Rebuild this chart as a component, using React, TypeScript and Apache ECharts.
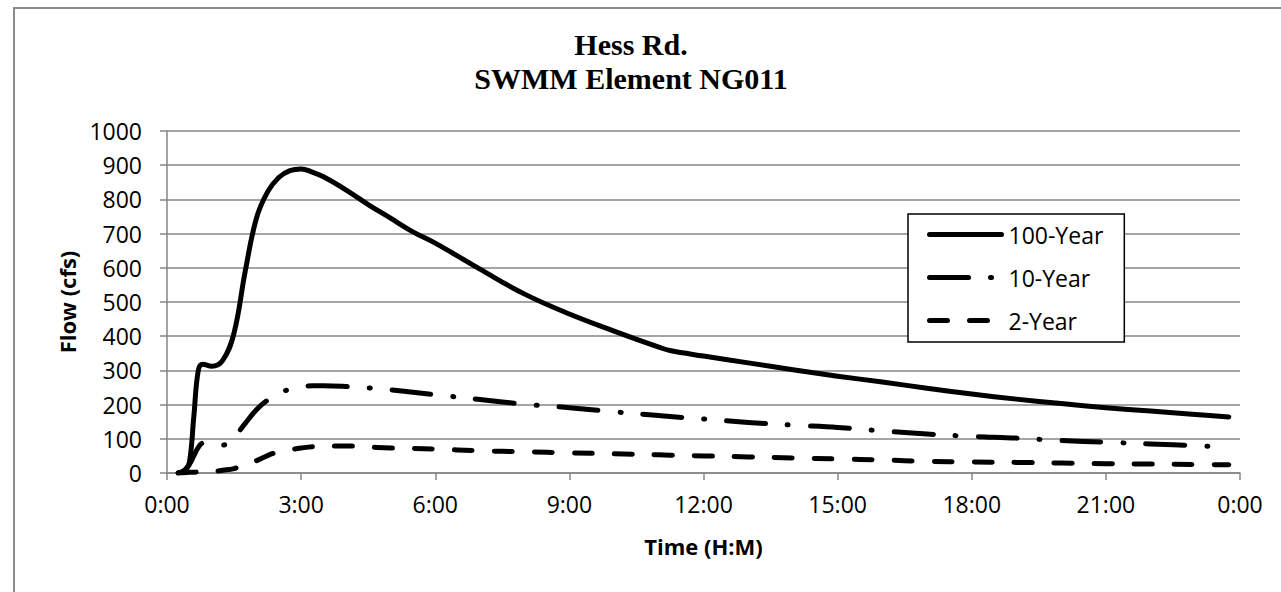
import React, { useEffect, useRef } from "react";
import * as echarts from "echarts";

const hours = [0.25, 0.4, 0.5, 0.6, 0.7, 0.8, 1.0, 1.25, 1.5, 1.75, 2.0, 2.25, 2.5, 2.75, 3.0, 3.25, 3.5, 4, 4.5, 5, 5.5, 6, 7, 8, 9, 10, 11, 11.25, 12, 13, 14, 15, 16, 17, 18, 19, 20, 21, 22, 23, 23.75];
const flow100 = [0, 8, 30, 165, 300, 318, 312, 330, 410, 590, 745, 822, 864, 884, 889, 880, 866, 828, 785, 745, 705, 672, 596, 523, 465, 415, 368, 358, 342, 322, 302, 283, 266, 248, 231, 216, 203, 191, 181, 171, 164];
const flow10 = [0, 9, 25, 50, 75, 87, 85, 82, 105, 145, 185, 213, 233, 245, 252, 255, 255, 253, 249, 243, 236, 229, 215, 201, 191, 179, 168, 165, 158, 148, 140, 133, 123, 114, 107, 102, 95, 90, 85, 80, 75];
const flow2 = [0, 1, 2, 2, 3, 3, 4, 8, 13, 24, 36, 51, 62, 68, 73, 77, 78, 79, 76, 73, 72, 70, 65, 62, 59, 56, 53, 52, 50, 47, 44, 41, 38, 34, 32, 31, 29, 27, 26, 25, 24];
const seriesNames = ["100-Year", "10-Year", "2-Year"];
const titleLines = ["Hess Rd.", "SWMM Element NG011"];
const xAxisTitle = "Time (H:M)";
const yAxisTitle = "Flow (cfs)";

const FONT = "Open Sans";
const GRID = "#868686";

export default function App() {
  const ref = useRef<HTMLDivElement>(null);
  useEffect(() => {
    if (!ref.current) return;
    const chart = echarts.init(ref.current, null, { renderer: "svg" });
    const pairs = (vals: number[]) => hours.map((h, i) => [h, vals[i]]);
    const lineBase = {
      type: "line",
      symbol: "none",
      smooth: 0.4,
      z: 3,
    };
    chart.setOption({
      animation: false,
      backgroundColor: "#fff",
      title: {
        text: titleLines.join("\n"),
        left: 626,
        top: 22,
        textAlign: "center",
        textStyle: {
          fontFamily: "Liberation Serif",
          fontWeight: "bold",
          fontSize: 30,
          lineHeight: 34,
          color: "#000",
        },
      },
      grid: { left: 167, right: 41, top: 131, bottom: 119, containLabel: false },
      xAxis: {
        type: "value",
        min: 0,
        max: 24,
        interval: 3,
        name: xAxisTitle,
        nameLocation: "middle",
        nameGap: 62,
        nameTextStyle: { fontFamily: FONT, fontWeight: "bold", fontSize: 22, color: "#000" },
        axisLine: { show: true, lineStyle: { color: GRID, width: 1.5 } },
        axisTick: { show: true, length: 7, inside: false, lineStyle: { color: GRID, width: 1.5 } },
        axisLabel: {
          fontFamily: FONT,
          fontSize: 23,
          color: "#000",
          margin: 19,
          formatter: (v: number) => `${v % 24}:00`,
        },
        splitLine: { show: false },
      },
      yAxis: {
        type: "value",
        min: 0,
        max: 1000,
        interval: 100,
        name: yAxisTitle,
        nameLocation: "middle",
        nameGap: 89,
        nameRotate: 90,
        nameTextStyle: { fontFamily: FONT, fontWeight: "bold", fontSize: 22, color: "#000" },
        axisLine: { show: true, lineStyle: { color: GRID, width: 1.5 } },
        axisTick: { show: true, length: 7, inside: false, lineStyle: { color: GRID, width: 1.5 } },
        axisLabel: {
          fontFamily: FONT,
          fontSize: 23,
          color: "#000",
          margin: 25,
          formatter: (v: number) => String(v),
        },
        splitLine: { show: true, lineStyle: { color: GRID, width: 1.5 } },
      },
      legend: {
        orient: "vertical",
        left: 908,
        top: 214,
        padding: [9, 21, 10, 19],
        itemWidth: 72,
        itemHeight: 24,
        itemGap: 20,
        borderColor: "#000",
        borderWidth: 1.5,
        backgroundColor: "#fff",
        z: 10,
        data: seriesNames,
        itemStyle: { opacity: 0 },
        lineStyle: { width: 5, cap: "round" },
        textStyle: { fontFamily: FONT, fontSize: 23, color: "#000", padding: [0, 0, 0, 2] },
      },
      graphic: [
        {
          type: "rect",
          shape: { x: 14, y: 8, width: 1400, height: 800 },
          style: { fill: "none", stroke: "#8c8c8c", lineWidth: 2 },
          silent: true,
          z: 100,
        },
      ],
      series: [
        {
          ...lineBase,
          name: seriesNames[0],
          data: pairs(flow100),
          lineStyle: { color: "#000", width: 5, type: "solid", cap: "round", join: "round" },
          itemStyle: { color: "#000" },
        },
        {
          ...lineBase,
          name: seriesNames[1],
          data: pairs(flow10),
          lineStyle: { color: "#000", width: 5, type: [39, 22, 1, 22], cap: "round", join: "round" },
          itemStyle: { color: "#000" },
        },
        {
          ...lineBase,
          name: seriesNames[2],
          data: pairs(flow2),
          lineStyle: { color: "#000", width: 5, type: [18, 22], cap: "round", join: "round" },
          itemStyle: { color: "#000" },
        },
      ],
    });
    return () => chart.dispose();
  }, []);
  return (
    <div
      ref={ref}
      style={{ position: "absolute", left: 0, top: 0, width: 1281, height: 592 }}
    />
  );
}
